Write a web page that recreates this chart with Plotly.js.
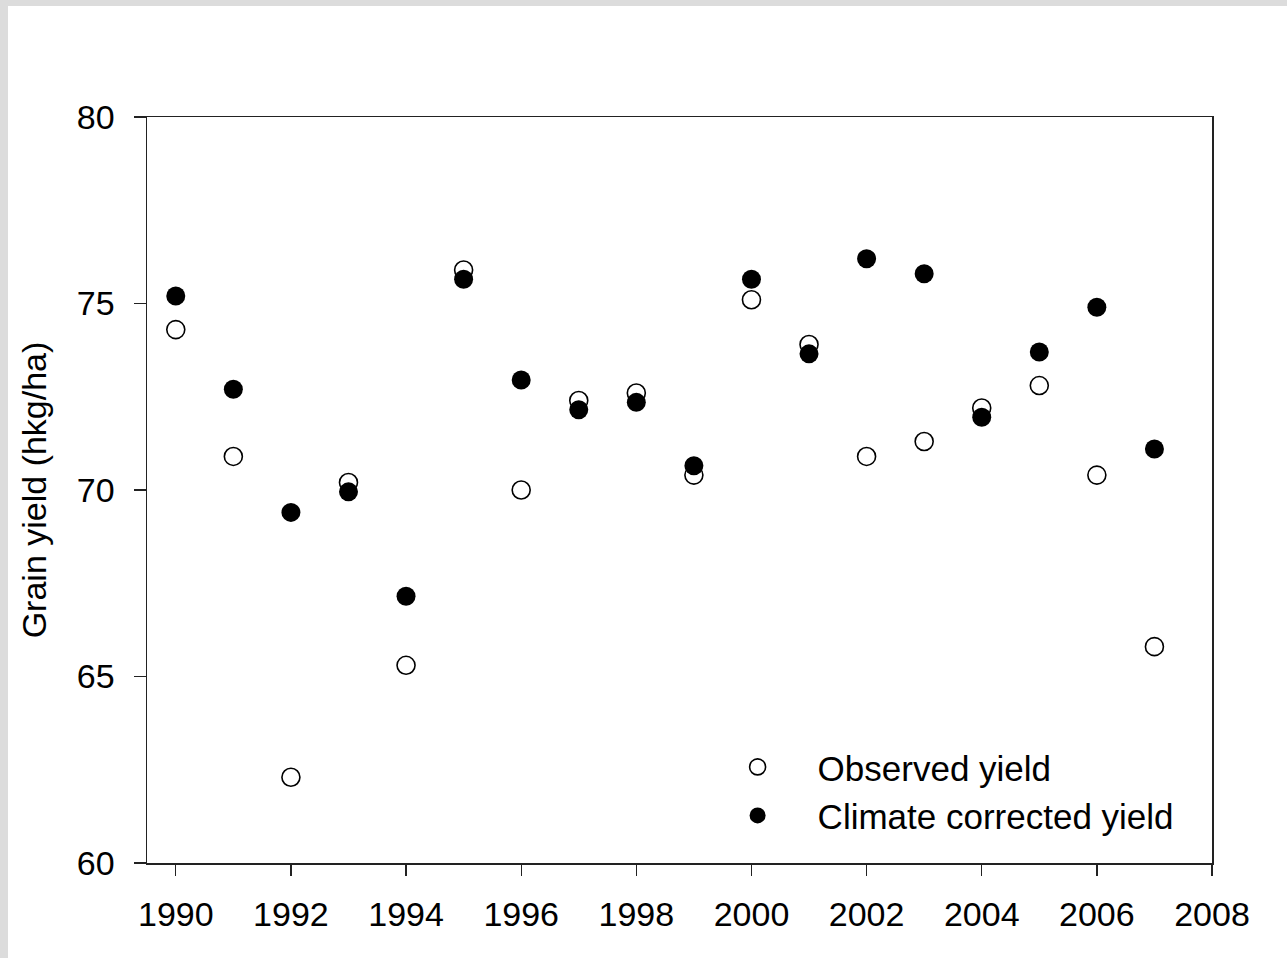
<!DOCTYPE html>
<html>
<head>
<meta charset="utf-8">
<script src="https://cdn.plot.ly/plotly-3.0.1.min.js"></script>
<style>
  html, body { margin: 0; padding: 0; background: #dcdcdc; width: 1287px; height: 958px; overflow: hidden; }
  #chart { position: absolute; left: 8px; top: 6px; width: 1279px; height: 952px; background: #fff; }
</style>
</head>
<body>
<div id="chart"></div>
<script>
const years = [1990,1991,1992,1993,1994,1995,1996,1997,1998,1999,2000,2001,2002,2003,2004,2005,2006,2007];
const observedYield = [74.3,70.9,62.3,70.2,65.3,75.9,70.0,72.4,72.6,70.4,75.1,73.9,70.9,71.3,72.2,72.8,70.4,65.8];
const correctedYield = [75.2,72.7,69.4,69.95,67.15,75.65,72.95,72.15,72.35,70.65,75.65,73.65,76.2,75.8,71.95,73.7,74.9,71.1];
const xTicks = [1990,1992,1994,1996,1998,2000,2002,2004,2006,2008];
const yTicks = [60,65,70,75,80];

const FONT = 'Liberation Sans, Arial, sans-serif';
const FS = 34;

const traces = [
  {
    x: years, y: observedYield, type: 'scatter', mode: 'markers',
    name: 'Observed yield',
    marker: { symbol: 'circle', size: 18, color: '#ffffff', line: { color: '#000000', width: 1.6 } }
  },
  {
    x: years, y: correctedYield, type: 'scatter', mode: 'markers',
    name: 'Climate corrected yield',
    marker: { symbol: 'circle', size: 19, color: '#000000', line: { color: '#000000', width: 0 } }
  }
];

const layout = {
  width: 1279, height: 952,
  paper_bgcolor: '#ffffff', plot_bgcolor: '#ffffff',
  margin: { l: 139, r: 75, t: 111, b: 95 },
  font: { family: FONT, color: '#000000', size: FS },
  showlegend: true,
  legend: {
    x: 0.517, y: 0.168, xanchor: 'left', yanchor: 'top',
    bgcolor: 'rgba(0,0,0,0)', borderwidth: 0,
    font: { family: FONT, size: 35, color: '#000000' },
    itemwidth: 110, tracegroupgap: 0
  },
  xaxis: {
    range: [1989.5, 2008], tickvals: xTicks, ticktext: xTicks.map(String),
    ticks: 'outside', ticklen: 11, tickwidth: 1.3, tickcolor: '#222',
    showline: true, linecolor: '#222', linewidth: 1.5, mirror: true,
    showgrid: false, zeroline: false, ticklabelstandoff: 10,
    tickfont: { family: FONT, size: FS, color: '#000' }
  },
  yaxis: {
    range: [60, 80], tickvals: yTicks, ticktext: yTicks.map(String),
    ticks: 'outside', ticklen: 12, tickwidth: 1.3, tickcolor: '#222',
    showline: true, linecolor: '#222', linewidth: 1.5, mirror: true,
    showgrid: false, zeroline: false, ticklabelstandoff: 12,
    tickfont: { family: FONT, size: FS, color: '#000' },
    title: { text: 'Grain yield (hkg/ha)', font: { family: FONT, size: FS, color: '#000' }, standoff: 20 }
  }
};

Plotly.newPlot('chart', traces, layout, { staticPlot: true, displayModeBar: false });
</script>
</body>
</html>
